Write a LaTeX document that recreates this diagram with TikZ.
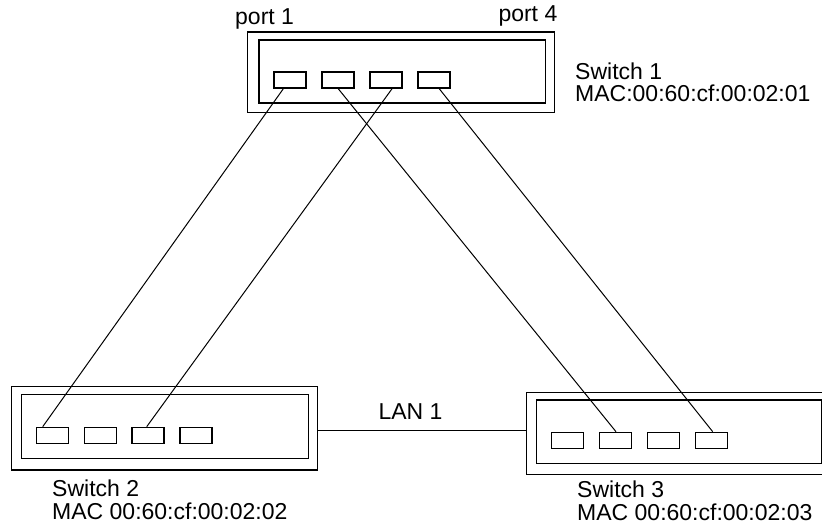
\documentclass[tikz,border=0pt]{standalone}
\usepackage{fontspec}
\setmainfont{Liberation Sans}
\usepackage{tikz}
\usetikzlibrary{positioning, calc}

\begin{document}
\begin{tikzpicture}[x=1pt, y=-1pt,
    case/.style={draw, line width=1.3pt, inner sep=0pt, anchor=north west,
                 minimum width=307pt, minimum height=82pt},
    portbox/.style={draw, line width=1.3pt, inner sep=0pt, anchor=north west,
                    minimum width=32pt, minimum height=16pt},
    cable/.style={line width=1pt},
    lbl/.style={inner sep=0pt, anchor=base west, align=left,
                font=\fontsize{23}{22.5}\selectfont}]
  \useasboundingbox (0,0) rectangle (822,529);

  % ---- Switch 1 ----
  \node[case, minimum height=80.5pt] (sw1) at (247,31.5) {};
  \draw[line width=1.3pt] (259,40) rectangle (545.5,103);
  \node[portbox] (s1p1) at (273.3,71.5) {};
  \node[portbox] (s1p2) at (321.3,71.5) {};
  \node[portbox] (s1p3) at (369.3,71.5) {};
  \node[portbox] (s1p4) at (417.3,71.5) {};
  \node[lbl] (port1) at (235,25) {port 1};
  \node[lbl] (port4) at (498.3,21.7) {port 4};
  \node[lbl] (name1) at (575,101.7) {Switch 1\\MAC:00:60:cf:00:02:01};

  % ---- Switch 2 ----
  \node[case, minimum width=306pt, minimum height=83.3pt] (sw2) at (10.7,386) {};
  \draw[line width=1.3pt] (21.7,394.3) rectangle (308.3,458.3);
  \node[portbox] (s2p1) at (35.7,426.7) {};
  \node[portbox] (s2p2) at (83.5,426.7) {};
  \node[portbox] (s2p3) at (131.3,426.7) {};
  \node[portbox] (s2p4) at (179.3,426.7) {};
  \node[lbl] (name2) at (52,519) {Switch 2\\MAC 00:60:cf:00:02:02};

  % ---- Switch 3 ----
  \node[case, minimum width=306.5pt] (sw3) at (525.5,391.7) {};
  \draw[line width=1.3pt] (536.7,400) rectangle (821.7,463.3);
  \node[portbox] (s3p1) at (550.7,431.7) {};
  \node[portbox] (s3p2) at (598.7,431.7) {};
  \node[portbox] (s3p3) at (646.7,431.7) {};
  \node[portbox] (s3p4) at (694.7,431.7) {};
  \node[lbl] (name3) at (577,520) {Switch 3\\MAC 00:60:cf:00:02:03};

  % ---- LAN 1 ----
  \coordinate (lan) at (0,430);
  \draw[cable] (lan -| sw2.east) -- (lan -| sw3.west);
  \node[lbl] (lan1) at (378.3,419.3) {LAN 1};

  % ---- cables ----
  \draw[cable] ([xshift=10pt]s1p1.south west) -- ([xshift=7pt]s2p1.north west);
  \draw[cable] ([xshift=17pt]s1p2.south west) -- ([xshift=17.3pt]s3p2.north west);
  \draw[cable] ([xshift=22.7pt]s1p3.south west) -- ([xshift=15.4pt]s2p3.north west);
  \draw[cable] ([xshift=22pt]s1p4.south west) -- ([xshift=18pt]s3p4.north west);
\end{tikzpicture}
\end{document}
